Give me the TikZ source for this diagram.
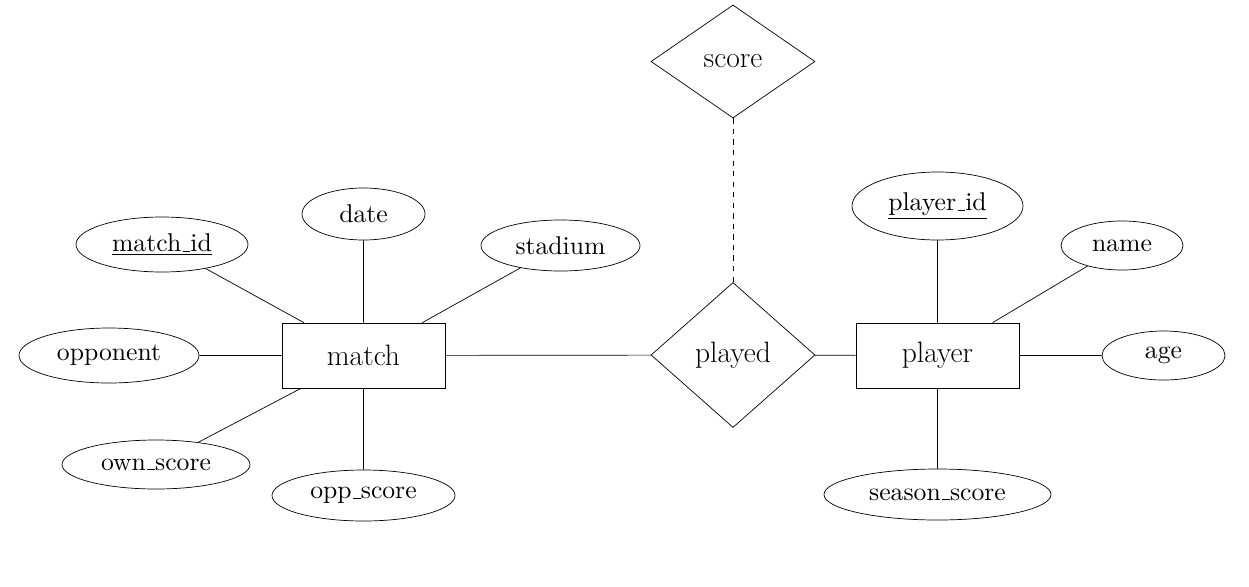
\documentclass[tikz,border=0pt]{standalone}
\usepackage{fontspec}
\usetikzlibrary{shapes.geometric}
\newfontfamily\attrfont{lmroman10-regular}[Extension=.otf]
\newcommand{\uscore}{\leavevmode\kern.06em\vbox{\hrule width.3em}}

\begin{document}
\begin{tikzpicture}[
  every node/.style={font=\attrfont\fontsize{14.6}{17}\selectfont},
  entity/.style={rectangle,draw,minimum width=3.26cm,minimum height=1.3cm,inner sep=1pt,font=\rmfamily\fontsize{16.8}{20}\selectfont},
  rel/.style={diamond,draw,aspect=1,inner sep=1pt,minimum width=3.28cm,font=\rmfamily\fontsize{16.8}{20}\selectfont},
  attr/.style={ellipse,draw,inner sep=0pt}
]
  \useasboundingbox (0,0) rectangle (24.98,-11.72);
  % entities and relationships
  \node[entity] (match) at (7.27,-7.11) {match};
  \node[entity] (player) at (18.75,-7.11) {player};
  \node[rel,minimum height=2.9cm] (played) at (14.66,-7.10) {played};
  \node[rel,minimum height=2.26cm] (score) at (14.66,-1.23) {score};
  % attributes of match
  \node[attr,minimum width=3.44cm,minimum height=1.10cm] (mid) at (3.24,-4.89) {\underline{match\uscore id}};
  \node[attr,minimum width=2.46cm,minimum height=1.04cm] (date) at (7.27,-4.28) {date};
  \node[attr,minimum width=3.18cm,minimum height=1.02cm] (stad) at (11.21,-4.91) {stadium};
  \node[attr,minimum width=3.60cm,minimum height=1.10cm] (opp) at (2.18,-7.11) {opponent};
  \node[attr,minimum width=3.76cm,minimum height=0.98cm] (owns) at (3.12,-9.29) {own\uscore score};
  \node[attr,minimum width=3.66cm,minimum height=1.02cm] (opps) at (7.27,-9.91) {opp\uscore score};
  % attributes of player
  \node[attr,minimum width=3.42cm,minimum height=1.36cm] (pid) at (18.75,-4.12) {\underline{player\uscore id}};
  \node[attr,minimum width=2.44cm,minimum height=0.98cm] (name) at (22.44,-4.91) {name};
  \node[attr,minimum width=2.46cm,minimum height=0.98cm] (age) at (23.27,-7.11) {age};
  \node[attr,minimum width=4.54cm,minimum height=1.02cm] (sscore) at (18.75,-9.89) {season\uscore score};
  % connectors
  \draw (match)--(mid) (match)--(date) (match)--(stad);
  \draw (match)--(opp) (match)--(owns) (match)--(opps);
  \draw (player)--(pid) (player)--(name) (player)--(age) (player)--(sscore);
  \draw (match)--(played) (played)--(player);
  \draw[dashed] (score)--(played);
\end{tikzpicture}
\end{document}
